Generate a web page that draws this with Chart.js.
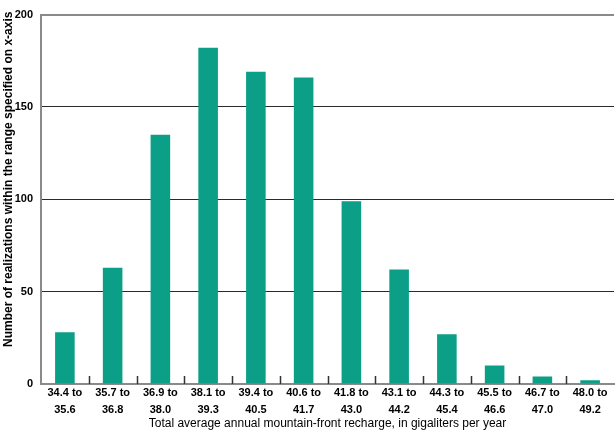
<!DOCTYPE html>
<html>
<head>
<meta charset="utf-8">
<script src="https://cdn.jsdelivr.net/npm/chart.js@4/dist/chart.umd.min.js"></script>
<style>
  html, body { margin: 0; padding: 0; background: #fff; }
  canvas { display: block; }
</style>
</head>
<body>
<canvas id="myChart" width="615" height="431"></canvas>
<script>
// recharge ranges (gigaliters per year), two-line labels
const categories = [
    ['34.4 to', '35.6'], ['35.7 to', '36.8'], ['36.9 to', '38.0'], ['38.1 to', '39.3'],
    ['39.4 to', '40.5'], ['40.6 to', '41.7'], ['41.8 to', '43.0'], ['43.1 to', '44.2'],
    ['44.3 to', '45.4'], ['45.5 to', '46.6'], ['46.7 to', '47.0'], ['48.0 to', '49.2']
];
const realizations = [28, 63, 135, 182, 169, 166, 99, 62, 27, 10, 4, 2];
const yTicks = [0, 50, 100, 150, 200];

const FONT = "'Liberation Sans Narrow', 'Arial Narrow', 'Liberation Sans', sans-serif";
const AXIS_GRAY = '#8a8a8a';

// small tick marks between categories, pointing up into the plot
const innerTicks = {
    id: 'innerTicks',
    afterDraw(chart) {
        const x = chart.scales.x;
        const bottom = chart.chartArea.bottom;
        const ctx = chart.ctx;
        ctx.save();
        ctx.strokeStyle = '#333';
        ctx.lineWidth = 1.5;
        for (let i = 1; i < categories.length; i++) {
            const px = Math.round((x.getPixelForTick(i - 1) + x.getPixelForTick(i)) / 2) + 0.5;
            ctx.beginPath();
            ctx.moveTo(px, bottom);
            ctx.lineTo(px, bottom - 8);
            ctx.stroke();
        }
        ctx.restore();
    }
};

const ctx = document.getElementById('myChart').getContext('2d');
const myChart = new Chart(ctx, {
    type: 'bar',
    data: {
        labels: categories,
        datasets: [{
            data: realizations,
            backgroundColor: '#0a9f86',
            barPercentage: 0.41,
            categoryPercentage: 1
        }]
    },
    options: {
        responsive: false,
        animation: false,
        layout: { padding: { top: 4, right: 1, left: 0, bottom: 0 } },
        plugins: {
            legend: { display: false },
            tooltip: { enabled: false }
        },
        scales: {
            x: {
                grid: { display: false },
                border: { color: AXIS_GRAY, width: 2 },
                ticks: {
                    color: '#000',
                    padding: -7,
                    maxRotation: 0,
                    autoSkip: false,
                    font: { family: FONT, size: 11, weight: 'bold', lineHeight: 1.5 }
                },
                title: {
                    display: true,
                    text: 'Total average annual mountain-front recharge, in gigaliters per year',
                    color: '#000',
                    padding: { top: 0, bottom: 0 },
                    font: { family: FONT, size: 12 }
                },
                afterFit(scale) { scale.height = 47; }
            },
            y: {
                min: 0,
                max: 200,
                afterBuildTicks(scale) { scale.ticks = yTicks.map(v => ({ value: v })); },
                grid: {
                    drawTicks: false,
                    color: c => c.tick && c.tick.value === 200 ? AXIS_GRAY : '#2a2a2a',
                    lineWidth: c => c.tick && c.tick.value === 200 ? 2 : 1
                },
                border: { color: AXIS_GRAY, width: 2 },
                ticks: {
                    color: '#000',
                    padding: 8,
                    font: { family: FONT, size: 11, weight: 'bold' }
                },
                title: {
                    display: true,
                    // leading spaces push the visible text up, as in the original
                    text: '            Number of realizations within the range specified on x-axis',
                    color: '#000',
                    padding: { top: 1, bottom: 0 },
                    font: { family: FONT, size: 12, weight: 'bold' }
                },
                afterFit(scale) { scale.width = 41; }
            }
        }
    },
    plugins: [innerTicks]
});
</script>
</body>
</html>
